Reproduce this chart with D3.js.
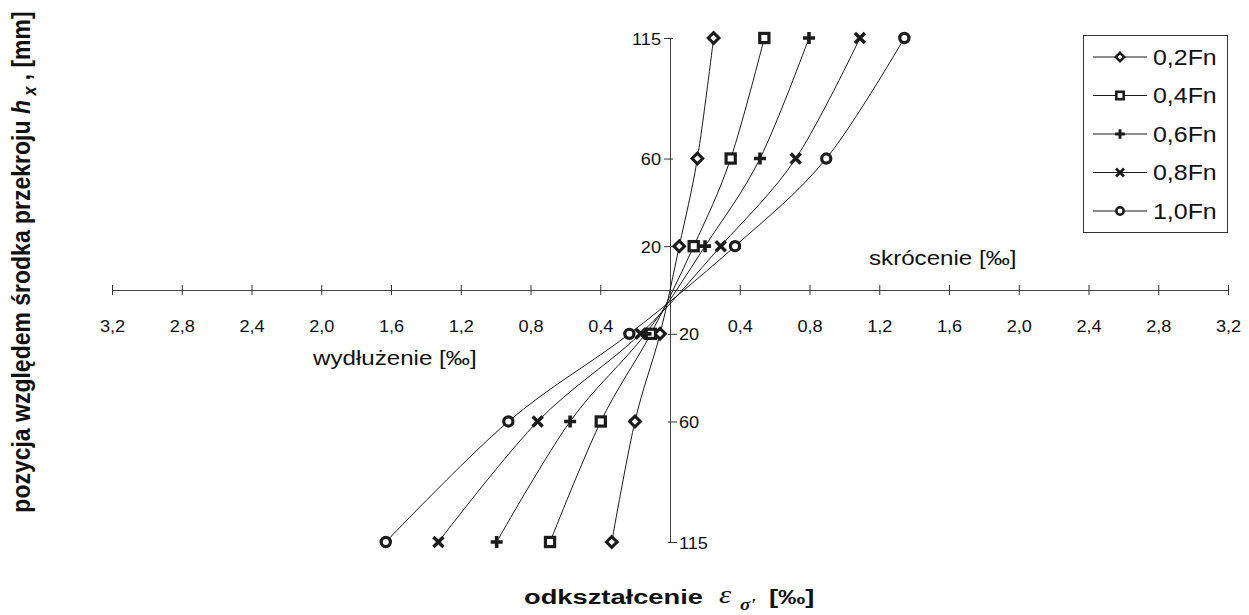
<!DOCTYPE html>
<html>
<head>
<meta charset="utf-8">
<script src="https://cdn.jsdelivr.net/npm/d3@7"></script>
<style>
  body { margin: 0; background: #fff; }
  text { font-family: "Liberation Sans", Arial, sans-serif; fill: #111; }
</style>
</head>
<body>
<svg id="chart" width="1249" height="615"></svg>
<script>
// Section position h_x [mm] for each measuring level
const positions = [115, 60, 20, -20, -60, -115];
// Strain [‰] at each level for successive load steps
const seriesNames = ["0,2Fn", "0,4Fn", "0,6Fn", "0,8Fn", "1,0Fn"];
const strain02 = [0.250, 0.157, 0.053, -0.057, -0.201, -0.334];
const strain04 = [0.541, 0.348, 0.136, -0.110, -0.397, -0.688];
const strain06 = [0.797, 0.516, 0.201, -0.140, -0.573, -0.994];
const strain08 = [1.089, 0.721, 0.291, -0.169, -0.759, -1.328];
const strain10 = [1.344, 0.896, 0.373, -0.233, -0.927, -1.630];
const markerTypes = ["diamond", "square", "plus", "times", "circle"];
// Axis ticks
const xTickValues = [-3.2, -2.8, -2.4, -2.0, -1.6, -1.2, -0.8, -0.4, 0.4, 0.8, 1.2, 1.6, 2.0, 2.4, 2.8, 3.2];
const yTickValues = [115, 60, 20, -20, -60, -115];

const allStrain = [strain02, strain04, strain06, strain08, strain10];

const svg = d3.select("#chart");
const x = d3.scaleLinear().domain([-3.2, 3.2]).range([112, 1228]);
const y = d3.scaleLinear().domain([-115, 115]).range([542, 38]);
const ink = "#1b1b1b";
const fmt = v => Math.abs(v).toFixed(1).replace(".", ",");

// Place a text, widened horizontally like the printed lettering
function label(g, str, px, py, opts = {}) {
  const sx = opts.sx || 1.15;
  return g.append("text")
    .attr("transform", `translate(${px},${py}) scale(${sx},1)`)
    .attr("text-anchor", opts.anchor || "start")
    .style("font-size", (opts.size || 16) + "px")
    .style("font-weight", opts.weight || "normal")
    .style("font-style", opts.italic ? "italic" : "normal")
    .style("font-family", opts.family || null)
    .text(str);
}

// Marker drawing
function marker(g, type, cx, cy, k = 1) {
  const m = g.append("g").attr("transform", `translate(${cx},${cy})`);
  if (type === "diamond") {
    const h = 5.3 * k;
    m.append("path").attr("d", `M0,${-h}L${h},0L0,${h}L${-h},0Z`)
      .attr("fill", "#fff").attr("stroke", ink).attr("stroke-width", 3.1 * k);
  } else if (type === "square") {
    const h = 4.6 * k;
    m.append("rect").attr("x", -h).attr("y", -h).attr("width", 2 * h).attr("height", 2 * h)
      .attr("fill", "#fff").attr("stroke", ink).attr("stroke-width", 3.2 * k);
  } else if (type === "plus") {
    const h = 6 * k;
    m.append("path").attr("d", `M${-h},0H${h}M0,${-h}V${h}`)
      .attr("stroke", ink).attr("stroke-width", 3.6 * k);
  } else if (type === "times") {
    const h = 5 * k;
    m.append("path").attr("d", `M${-h},${-h}L${h},${h}M${-h},${h}L${h},${-h}`)
      .attr("stroke", ink).attr("stroke-width", 3.4 * k);
  } else {
    m.append("circle").attr("r", 4.6 * k)
      .attr("fill", "#fff").attr("stroke", ink).attr("stroke-width", 3.2 * k);
  }
}

// Horizontal strain axis
const xAxisG = svg.append("g").attr("transform", `translate(0,${y(0)})`)
  .call(d3.axisBottom(x).tickValues(xTickValues).tickSizeOuter(0).tickSizeInner(5).tickFormat(() => ""));
xAxisG.select(".domain").attr("stroke", "#444").attr("stroke-width", 1);
xAxisG.selectAll(".tick line").attr("y1", -5).attr("y2", 5).attr("stroke", "#333");
xAxisG.selectAll(".tick").each(function (d) {
  label(d3.select(this), fmt(d), 0, 42, { anchor: "middle", size: 16.5, sx: 1.1 });
});

// Vertical position axis
const yAxisG = svg.append("g").attr("transform", `translate(${x(0)},0)`)
  .call(d3.axisLeft(y).tickValues(yTickValues).tickSizeOuter(0).tickSizeInner(6).tickFormat(() => ""));
yAxisG.select(".domain").attr("stroke", "#444").attr("stroke-width", 1)
  .attr("d", `M0.5,${y(115)}V${y(-115)}`);
yAxisG.selectAll(".tick line").attr("stroke", "#333")
  .attr("x1", d => d > 0 ? -6 : -2).attr("x2", d => d > 0 ? 3 : 7);
yAxisG.selectAll(".tick").each(function (d) {
  const t = d3.select(this);
  if (d > 0) label(t, String(d), -9, 6, { anchor: "end", size: 16.5, sx: 1.1 });
  else label(t, String(-d), 9, 6, { anchor: "start", size: 16.5, sx: 1.1 });
});

// Series lines and markers
const line = d3.line().curve(d3.curveCardinal.tension(0));
allStrain.forEach((vals, i) => {
  const pts = vals.map((v, j) => [x(v), y(positions[j])]);
  svg.append("path").attr("d", line(pts))
    .attr("fill", "none").attr("stroke", ink).attr("stroke-width", 1);
});
allStrain.forEach((vals, i) => {
  const g = svg.append("g");
  vals.forEach((v, j) => marker(g, markerTypes[i], x(v), y(positions[j])));
});

// Region annotations
label(svg, "skrócenie [‰]", 869, 265, { size: 21, sx: 1.15 });
label(svg, "wydłużenie [‰]", 313, 365, { size: 21, sx: 1.15 });

// Legend
const lg = svg.append("g");
lg.append("rect").attr("x", 1083.5).attr("y", 35.5).attr("width", 144).attr("height", 197)
  .attr("fill", "#fff").attr("stroke", "#333").attr("stroke-width", 1);
seriesNames.forEach((name, i) => {
  const cy = 57 + i * 38.5;
  lg.append("line").attr("x1", 1093).attr("x2", 1147).attr("y1", cy).attr("y2", cy)
    .attr("stroke", ink).attr("stroke-width", 1);
  marker(lg, markerTypes[i], 1120, cy, 0.8);
  label(lg, name, 1153, cy + 7.5, { size: 21.5, sx: 1.16 });
});

// Horizontal axis title: odkształcenie ε_σ' [‰]
const serif = "'Liberation Serif', 'DejaVu Serif', serif";
label(svg, "odkształcenie", 524, 604, { size: 21, sx: 1.3, weight: "bold" });
label(svg, "ε", 719, 603, { size: 25, sx: 1.25, italic: true, family: serif });
label(svg, "σ'", 740, 610, { size: 16, sx: 1.2, italic: true, family: serif, weight: "bold" });
label(svg, "[‰]", 769, 604, { size: 21, sx: 1.3, weight: "bold" });

// Vertical axis title
const yt = svg.append("text")
  .attr("transform", "translate(30,262) rotate(-90) scale(1,1.12)")
  .attr("text-anchor", "middle")
  .style("font-size", "23px").style("font-weight", "bold");
yt.append("tspan").text("pozycja względem środka przekroju  ");
yt.append("tspan").style("font-style", "italic").text("h");
yt.append("tspan").attr("dy", 5).style("font-style", "italic").style("font-size", "16px").text(" x");
yt.append("tspan").attr("dy", -5).text(" , [mm]");
</script>
</body>
</html>
